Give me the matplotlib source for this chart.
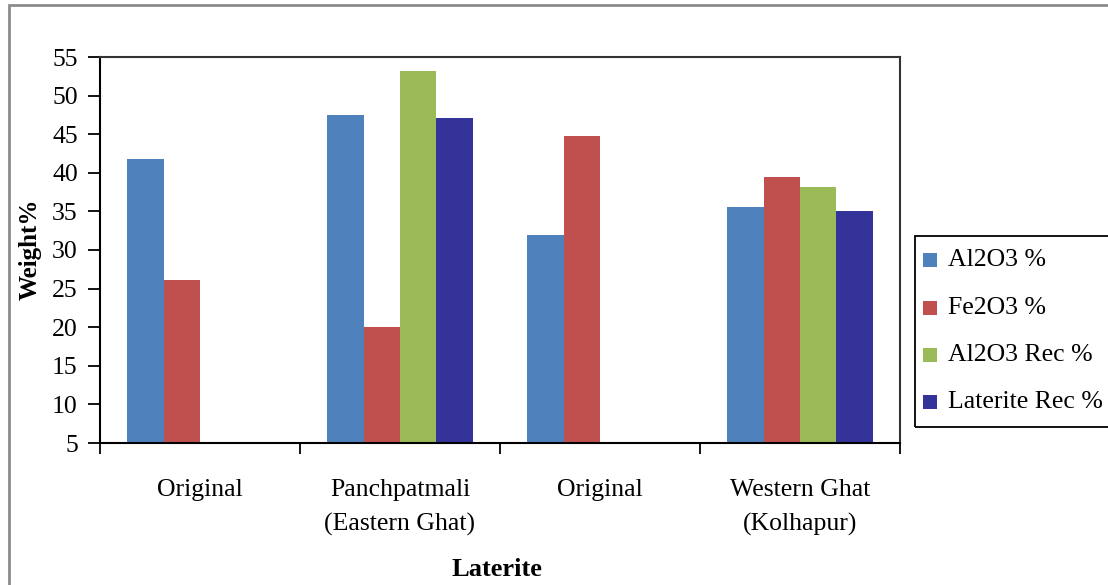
import matplotlib
matplotlib.use("Agg")
import matplotlib.pyplot as plt
import numpy as np
from matplotlib.patches import Rectangle

categories = ["Original", "Panchpatmali\n(Eastern Ghat)", "Original", "Western Ghat\n(Kolhapur)"]
series_names = ["Al2O3 %", "Fe2O3 %", "Al2O3 Rec %", "Laterite Rec %"]
al2o3 = [41.8, 47.5, 31.9, 35.6]
fe2o3 = [26.1, 20.0, 44.8, 39.4]
al2o3_rec = [np.nan, 53.2, np.nan, 38.2]
laterite_rec = [np.nan, 47.1, np.nan, 35.0]
colors = ["#4F81BD", "#C0504D", "#9BBB59", "#333399"]
yticks = [5, 10, 15, 20, 25, 30, 35, 40, 45, 50, 55]

plt.rcParams['font.family'] = ['Liberation Serif', 'DejaVu Serif']

W, H = 1108, 585
fig = plt.figure(figsize=(W / 100, H / 100), dpi=100)
ax = fig.add_axes([100 / W, 1 - 443 / H, 800 / W, 386 / H])

base = 5
x = np.arange(len(categories))
w = 0.182
for i, (vals, name, c) in enumerate(zip([al2o3, fe2o3, al2o3_rec, laterite_rec], series_names, colors)):
    v = np.array(vals, dtype=float)
    ax.bar(x + (i - 1.5) * w, v - base, width=w, bottom=base, color=c, label=name,
           edgecolor='none', linewidth=0)

ax.set_xlim(-0.5, 3.5)
ax.set_ylim(5, 55)
ax.set_yticks(yticks)
ax.set_xticks(x)
ax.set_xticklabels(categories, fontsize=18.5, linespacing=1.65)
ax.set_xticks(np.arange(-0.5, 4.0, 1.0), minor=True)
ax.tick_params(axis='x', which='major', length=0, pad=26)
ax.tick_params(axis='x', which='minor', length=8, width=1.3, direction='out')
ax.tick_params(axis='y', labelsize=18.5, length=9, width=1.3, direction='out', pad=7)

for s in ['left', 'bottom']:
    ax.spines[s].set_linewidth(1.5)
    ax.spines[s].set_color('black')
for s in ['top', 'right']:
    ax.spines[s].set_linewidth(1.5)
    ax.spines[s].set_color('#333333')

fig.text(30 / W, 1 - 249 / H, "Weight%", rotation=90, fontsize=18, fontweight='bold',
         ha='center', va='center')
fig.text(497 / W, 1 - 569 / H, "Laterite", fontsize=19, fontweight='bold',
         ha='center', va='center')

# legend box
fig.patches.append(Rectangle((915 / W, 1 - 427 / H), 300 / W, 191 / H, transform=fig.transFigure,
                             fill=False, edgecolor='black', linewidth=1.3))
row_y = [260, 308, 355, 402]
for yy, name, c in zip(row_y, series_names, colors):
    fig.patches.append(Rectangle((923 / W, 1 - (yy + 7) / H), 14 / W, 14 / H,
                                 transform=fig.transFigure, facecolor=c, edgecolor='none'))
    fig.text(948 / W, 1 - yy / H, name, fontsize=18.5, ha='left', va='center')

# outer chart border
fig.patches.append(Rectangle((8.5 / W, -0.1), 1.2, (1 - 5.5 / H) + 0.1, transform=fig.transFigure,
                             fill=False, edgecolor='#8c8c8c', linewidth=2))

fig.savefig("out.png", dpi=100)
